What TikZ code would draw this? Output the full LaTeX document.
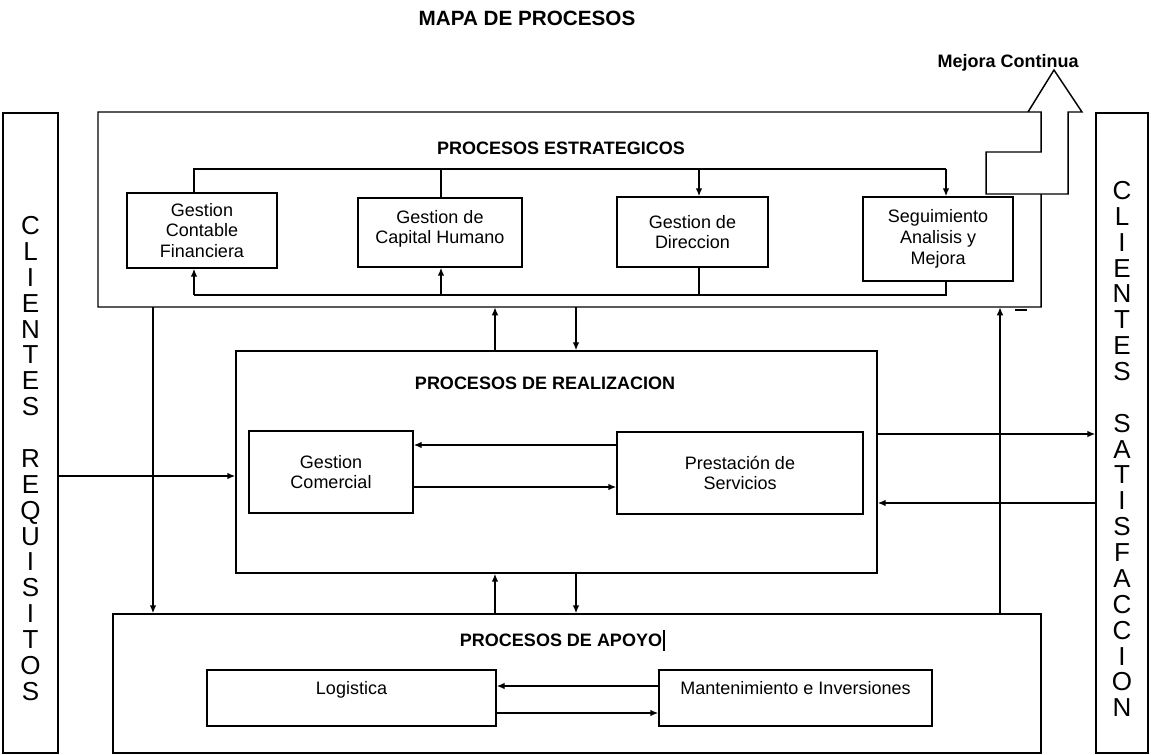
\documentclass[tikz,border=0pt]{standalone}
\usepackage{fontspec}
\setmainfont{Liberation Sans}
\usetikzlibrary{arrows.meta}
\begin{document}
\begin{tikzpicture}[x=0.75pt,y=-0.75pt,
  bx/.style={draw, line width=1.1pt, inner sep=0pt, align=center, font=\fontsize{13.5}{15.5}\selectfont},
  frame/.style={draw, line width=1.1pt, inner sep=0pt},
  ln/.style={line width=1.1pt},
  ar/.style={line width=1.1pt, -{Latex[length=6pt,width=5pt]}},
  ttl/.style={font=\bfseries\fontsize{13.5}{16}\selectfont, inner sep=0pt},
  col/.style={align=center, inner sep=0pt, font=\fontsize{19.5}{19.4}\selectfont}]
\useasboundingbox (0,0) rectangle (1151,755);
\fill[white] (0,0) rectangle (1151,755);

% titles
\node[ttl, font=\bfseries\fontsize{15.5}{18}\selectfont] (title) at (527,18) {MAPA DE PROCESOS};
\node[ttl] (mejora) at (1008,63) {Mejora Continua};

% client columns
\node[frame, minimum width=41.25pt, minimum height=480pt] (lcol) at (30.5,433) {};
\node[frame, minimum width=39pt, minimum height=480pt] (rcol) at (1122,433) {};
\node[col] (ltext) at (30.5,458.5) {C\\L\\I\\E\\N\\T\\E\\S\\\mbox{}\\R\\E\\Q\\U\\I\\S\\I\\T\\O\\S};
\node[col] (rtext) at (1122,449) {C\\L\\I\\E\\N\\T\\E\\S\\\mbox{}\\S\\A\\T\\I\\S\\F\\A\\C\\C\\I\\O\\N};

% strategic processes
\node[inner sep=0pt, minimum width=707.25pt, minimum height=146.25pt] (est) at (569.5,209.5) {};
\draw[ln, line join=miter] (1041,194) -- (1041,307) -- (98,307) -- (98,112) -- (1041,112)
  -- (1041,152) -- (986,152) -- (986,194) -- (1068,194) -- (1068,112) -- (1082,112)
  -- (1054,70) -- (1028,112);
\draw[ln] (1015,310) -- (1027,310);
\node[ttl] (estt) at (561,148) {PROCESOS ESTRATEGICOS};
\node[bx, minimum width=112.5pt, minimum height=56.25pt] (gcf) at (202,230.5) {Gestion\\Contable\\Financiera};
\node[bx, minimum width=123pt, minimum height=51.75pt] (gch) at (440,232.5) {Gestion de\\Capital Humano\\[-7pt]\mbox{}};
\node[bx, minimum width=113.25pt, minimum height=52.5pt] (gdd) at (692.5,232) {Gestion de\\Direccion};
\node[bx, minimum width=112.5pt, minimum height=63pt] (sam) at (938,239) {Seguimiento\\Analisis y\\Mejora};

% realization processes
\node[frame, minimum width=480.75pt, minimum height=166.5pt] (real) at (556.5,462) {};
\node[ttl] (realt) at (545,383) {PROCESOS DE REALIZACION};
\node[bx, minimum width=123pt, minimum height=61.5pt] (gcom) at (331,472) {Gestion\\Comercial};
\node[bx, minimum width=184.5pt, minimum height=61.5pt] (pres) at (740,473) {Prestación de\\Servicios};

% support processes
\node[frame, minimum width=696pt, minimum height=104.25pt] (apo) at (577,683.5) {};
\node[ttl] (apot) at (561,640) {PROCESOS DE APOYO};
\draw[line width=1.3pt] (apot.east) ++(2,-10) -- ++(0,21);
\node[bx, minimum width=216.75pt, minimum height=42pt] (logi) at (351.5,698) {Logistica\\\mbox{}};
\node[bx, minimum width=204.75pt, minimum height=42pt] (mant) at (795.5,698) {Mantenimiento e Inversiones\\\mbox{}};

% helper coordinates
\coordinate (xa) at (194,0);
\coordinate (xb) at (441,0);
\coordinate (xc) at (699,0);
\coordinate (xd) at (946,0);
\coordinate (ytop) at (0,169);
\coordinate (ybot) at (0,295);
\coordinate (xu) at (495,0);
\coordinate (xw) at (576,0);
\coordinate (xl) at (153,0);
\coordinate (xr) at (1000,0);
\coordinate (y1) at (0,476);
\coordinate (y2) at (0,434);
\coordinate (y3) at (0,503);
\coordinate (y4) at (0,445);
\coordinate (y5) at (0,487);
\coordinate (y6) at (0,686);
\coordinate (y7) at (0,713);

% strategic connectors
\draw[ln] (gcf.north -| xa) -- (xa |- ytop) -- (xd |- ytop);
\draw[ln] (xb |- ytop) -- (gch.north -| xb);
\draw[ar] (xc |- ytop) -- (gdd.north -| xc);
\draw[ar] (xd |- ytop) -- (sam.north -| xd);
\draw[ln] (sam.south -| xd) -- (xd |- ybot) -- (xa |- ybot);
\draw[ln] (gdd.south -| xc) -- (xc |- ybot);
\draw[ar] (xa |- ybot) -- (gcf.south -| xa);
\draw[ar] (xb |- ybot) -- (gch.south -| xb);

% between process groups
\draw[ar] (real.north -| xu) -- (est.south -| xu);
\draw[ar] (est.south -| xw) -- (real.north -| xw);
\draw[ar] (apo.north -| xu) -- (real.south -| xu);
\draw[ar] (real.south -| xw) -- (apo.north -| xw);
\draw[ar] (est.south -| xl) -- (apo.north -| xl);
\draw[ar] (apo.north -| xr) -- (est.south -| xr);

% clients
\draw[ar] (lcol.east |- y1) -- (real.west |- y1);
\draw[ar] (real.east |- y2) -- (rcol.west |- y2);
\draw[ar] (rcol.west |- y3) -- (real.east |- y3);

% inner
\draw[ar] (pres.west |- y4) -- (gcom.east |- y4);
\draw[ar] (gcom.east |- y5) -- (pres.west |- y5);
\draw[ar] (mant.west |- y6) -- (logi.east |- y6);
\draw[ar] (logi.east |- y7) -- (mant.west |- y7);
\end{tikzpicture}
\end{document}
